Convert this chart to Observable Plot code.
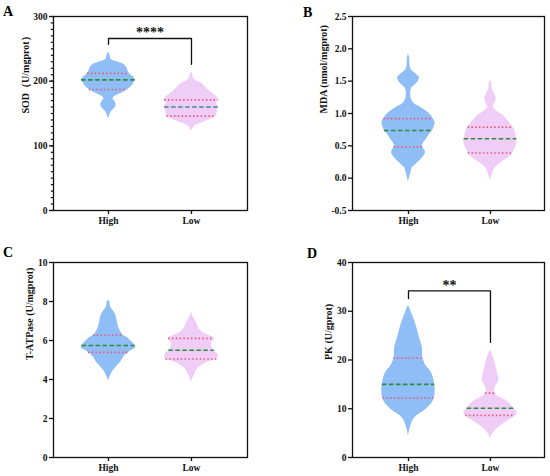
<!DOCTYPE html>
<html>
<head>
<meta charset="utf-8">
<script src="https://cdn.jsdelivr.net/npm/d3@7"></script>
<script src="https://cdn.jsdelivr.net/npm/@observablehq/plot@0.6"></script>
<style>
  body { margin: 0; background: #fff; }
  #wrap { position: relative; width: 550px; height: 476px; background: #fff; }
  .panel { position: absolute; }
  .letter { position: absolute; font: bold 14px "Liberation Serif", "Times New Roman", serif; line-height: 14px; color: #000; }
</style>
</head>
<body>
<div id="wrap"></div>
<script>
// ---------- data ----------
const groups = ["High", "Low"];

// Panel A: SOD
const sodLabel = "SOD（U/mgprot）";
const sodTicks = [0, 100, 200, 300];
const sodMinorTicks = d3.range(0, 301, 10);
const sodHighVal = [245,240,234,230,226,221,215,211,206,202,197,192,187,182,177,173,168,162,157,152,147,142];
const sodHighDen = [0,1.5,2.5,8,15,18,19.5,21,25,26.7,25,23,19,14,7,4.5,6.5,7.5,5.5,2.5,1.2,0];
const sodLowVal = [214,210,205,201,196,190,185,179,174,170,166,161,156,150,146,141,137,134,130,126,122];
const sodLowDen = [0,1.5,2,4.5,11,15,18,23,27,27.5,25.5,27.5,27,26,25,20,13,8,3,1.2,0];
const sodHighQ = [187, 202, 212];
const sodLowQ = [146, 160, 171];
const sodBracket = [257, 266, 226]; // left end, top, right end
const sodStars = "****";

// Panel B: MDA
const mdaLabel = "MDA (nmol/mgprot)";
const mdaTicks = [-0.5, 0, 0.5, 1, 1.5, 2, 2.5];
const mdaHighVal = [1.92,1.86,1.76,1.68,1.62,1.56,1.50,1.44,1.38,1.30,1.22,1.15,1.10,1.00,0.92,0.86,0.80,0.74,0.67,0.61,0.55,0.49,0.43,0.38,0.30,0.22,0.16,0.06,-0.06];
const mdaHighDen = [0,1.2,1.4,2.5,7,10.8,10,6.5,3,2.2,3,6,11.7,21,25,27,26,24.5,21,18.5,15.5,14,16.5,17,13.3,8,4,2,0];
const mdaLowVal = [1.51,1.46,1.39,1.32,1.23,1.15,1.10,1.03,0.97,0.90,0.815,0.74,0.66,0.58,0.505,0.43,0.35,0.28,0.22,0.15,0.08,-0.04];
const mdaLowDen = [0,1.4,1.6,3.5,5.8,4,3,7,13,17,21.7,24.5,26,27,26,24,21,15,9,4.5,2.5,0];
const mdaHighQ = [0.48, 0.737, 0.92];
const mdaLowQ = [0.39, 0.61, 0.79];

// Panel C: T-ATPase
const atpLabel = "T-ATPase (U/mgprot)";
const atpTicks = [0, 2, 4, 6, 8, 10];
const atpHighVal = [8.08,7.95,7.75,7.55,7.30,6.95,6.65,6.45,6.30,6.15,5.95,5.75,5.60,5.45,5.35,5.15,4.90,4.70,4.50,4.25,3.94];
const atpHighDen = [0,1.5,2,4.5,7.5,9,10.5,12.5,14.5,19,23.5,27,27.5,22,19.5,15.5,12.5,9,5.5,2.5,0];
const atpLowVal = [7.45,7.19,6.93,6.59,6.42,6.30,6.12,6.00,5.82,5.57,5.40,5.22,5.05,4.88,4.70,4.54,4.20,3.85];
const atpLowDen = [0,2,4.7,7.7,11,16,22.5,21.5,19.5,21,24,26.5,25,16,10,6,2.5,0];
const atpHighQ = [5.39, 5.74, 6.27];
const atpLowQ = [5.05, 5.5, 6.11];

// Panel D: PK
const pkLabel = "PK (U/gprot)";
const pkTicks = [0, 10, 20, 30, 40];
const pkHighVal = [31.3,30.1,28.7,26.7,24.6,22.55,20.5,18.8,17.4,15.35,13.3,11.6,9.9,8.15,6.4,4.4];
const pkHighDen = [0,2.3,5,8.3,11,14,14.5,17.8,23.3,26.3,27,25,17.8,6.3,2.3,0];
const pkLowVal = [22.0,20.8,19.1,17.1,15.7,14.5,13.3,12.4,11.6,10.2,9.0,7.8,6.44,5.06,3.9];
const pkLowDen = [0,2.7,5,7.5,8.3,5,4.5,9,16.7,23.3,27,20,10,3,0];
const pkHighQ = [12.2, 15.0, 20.4];
const pkLowQ = [8.65, 10.1, 13.2];
const pkBracket = [32.6, 34.2, 23.6];
const pkStars = "**";

// ---------- styling ----------
const violinFill = ["#8fbdf6", "#f0cdf7"];
const quartColor = "#f2506e";
const HALF = 0.325; // max half-width of a violin, in x units
const FONT = "'Liberation Serif', 'Times New Roman', serif";

const panels = [
  {id: "A", left: 0, top: 0, mL: 53, mR: 28, mT: 16, mB: 28, xd: [0.337, 2.675], yd: [0, 300],
   ticks: sodTicks, minor: sodMinorTicks, fmt: d => String(d), label: sodLabel,
   v: [[sodHighVal, sodHighDen], [sodLowVal, sodLowDen]], q: [sodHighQ, sodLowQ],
   med: ["#2e8b3a", "#3a8f8c"], bracket: sodBracket, stars: sodStars, lx: -28},
  {id: "B", left: 275, top: 0, mL: 77, mR: 6, mT: 16, mB: 28, xd: [0.317, 2.659], yd: [-0.5, 2.5],
   ticks: mdaTicks, minor: null, fmt: d => d.toFixed(1), label: mdaLabel,
   v: [[mdaHighVal, mdaHighDen], [mdaLowVal, mdaLowDen]], q: [mdaHighQ, mdaLowQ],
   med: ["#2e8b3a", "#2e8b3a"], bracket: null, lx: -29},
  {id: "C", left: 0, top: 238, mL: 53, mR: 28, mT: 24, mB: 19, xd: [0.337, 2.675], yd: [0, 10],
   ticks: atpTicks, minor: null, fmt: d => String(d), label: atpLabel,
   v: [[atpHighVal, atpHighDen], [atpLowVal, atpLowDen]], q: [atpHighQ, atpLowQ],
   med: ["#2e8b3a", "#2e8b3a"], bracket: null, lx: -24},
  {id: "D", left: 275, top: 238, mL: 77, mR: 6, mT: 24, mB: 19, xd: [0.317, 2.659], yd: [0, 40],
   ticks: pkTicks, minor: null, fmt: d => String(d), label: pkLabel,
   v: [[pkHighVal, pkHighDen], [pkLowVal, pkLowDen]], q: [pkHighQ, pkLowQ],
   med: ["#2e8b3a", "#2e8b3a"], bracket: pkBracket, stars: pkStars, lx: -24}
];

const letterPos = {A: [3, 5], B: [303, 6], C: [3, 246], D: [307, 247]};

function violinRows(vals, dens, c) {
  const m = d3.max(dens);
  return vals.map((v, i) => ({y: v, x1: c - dens[i] / m * HALF, x2: c + dens[i] / m * HALF}));
}
function halfAt(vals, dens, q) {
  const m = d3.max(dens);
  const s = d3.scaleLinear().domain(vals).range(dens.map(d => d / m * HALF)).clamp(true);
  return s(q);
}

const wrap = document.getElementById("wrap");

for (const p of panels) {
  const marks = [];
  p.v.forEach(([vals, dens], i) => {
    const c = i + 1;
    marks.push(Plot.areaX(violinRows(vals, dens, c), {y: "y", x1: "x1", x2: "x2", fill: violinFill[i], curve: "catmull-rom"}));
  });
  p.v.forEach(([vals, dens], i) => {
    const c = i + 1;
    const [q1, med, q3] = p.q[i];
    const quart = [q1, q3].map(q => ({y: q, x1: c - halfAt(vals, dens, q), x2: c + halfAt(vals, dens, q)}));
    marks.push(Plot.ruleY(quart, {y: "y", x1: "x1", x2: "x2", stroke: quartColor, strokeWidth: 1.6, strokeDasharray: "1.4,2.4"}));
    const h = halfAt(vals, dens, med);
    marks.push(Plot.ruleY([{y: med, x1: c - h, x2: c + h}], {y: "y", x1: "x1", x2: "x2", stroke: p.med[i], strokeWidth: 1.6, strokeDasharray: "4.5,2.5"}));
  });
  if (p.bracket) {
    const [yl, yt, yr] = p.bracket;
    marks.push(Plot.line([{x: 1, y: yl}, {x: 1, y: yt}, {x: 2, y: yt}, {x: 2, y: yr}], {x: "x", y: "y", stroke: "#111", strokeWidth: 1.3}));
    marks.push(Plot.text([{x: 1.5, y: yt}], {x: "x", y: "y", text: () => p.stars, fontSize: 14, fontWeight: "bold", lineAnchor: "bottom", dy: -1, fill: "#111"}));
  }
  marks.push(Plot.frame({stroke: "#111", strokeWidth: 1.3}));
  if (p.minor) {
    marks.push(Plot.axisY({ticks: p.minor, tickSize: 2.2, fill: "none", label: null, stroke: "#111", strokeWidth: 1.2}));
  }
  marks.push(Plot.axisY({ticks: p.ticks, tickSize: 4, tickPadding: 2, tickFormat: p.fmt, label: null, stroke: "#111", strokeWidth: 1.3, fontSize: 9.5, fontWeight: "bold", fill: "#111"}));
  marks.push(Plot.axisX({ticks: [1, 2], tickSize: 4, tickPadding: 3, tickFormat: d => groups[d - 1], label: null, stroke: "#111", strokeWidth: 1.3, fontSize: 9.5, fontWeight: "bold", fill: "#111"}));
  marks.push(Plot.text([p.label], {frameAnchor: "left", text: d => d, rotate: -90, dx: p.lx, fontSize: 10, fontWeight: "bold", fill: "#111", lineAnchor: "middle"}));

  const chart = Plot.plot({
    width: 275, height: 238,
    marginLeft: p.mL, marginRight: p.mR, marginTop: p.mT, marginBottom: p.mB,
    x: {domain: p.xd, label: null},
    y: {domain: p.yd, label: null},
    style: {fontFamily: FONT, fontWeight: "bold", fontSize: "9.5px", background: "transparent", color: "#111", overflow: "visible"},
    marks
  });
  const div = document.createElement("div");
  div.className = "panel";
  div.style.left = p.left + "px";
  div.style.top = p.top + "px";
  div.appendChild(chart);
  wrap.appendChild(div);

  const L = document.createElement("div");
  L.className = "letter";
  L.textContent = p.id;
  L.style.left = letterPos[p.id][0] + "px";
  L.style.top = letterPos[p.id][1] + "px";
  wrap.appendChild(L);
}
</script>
</body>
</html>
